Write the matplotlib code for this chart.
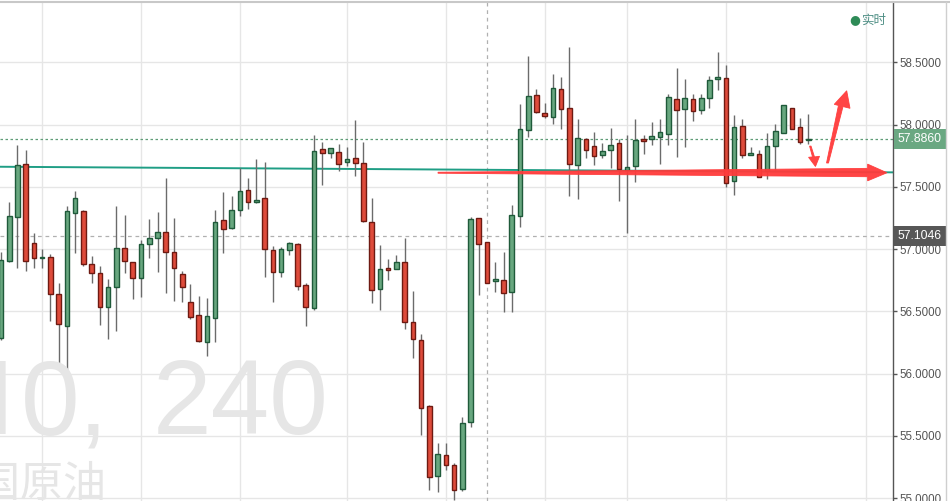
import matplotlib
matplotlib.use("Agg")
import matplotlib.pyplot as plt
import matplotlib.transforms as mtransforms
from matplotlib.patches import Polygon
from matplotlib.lines import Line2D

plt.rcParams['font.family'] = ['Liberation Sans', 'Noto Sans CJK SC', 'DejaVu Sans']

# ---------------- data (4h candles) ----------------
opens = [56.284, 56.907, 57.260, 57.683, 57.047, 56.928, 56.934, 56.637, 56.385, 57.292,
         57.306, 56.878, 56.806, 56.533, 56.693, 57.006, 56.894, 56.766, 57.039, 57.087,
         57.135, 56.979, 56.798, 56.573, 56.469, 56.257, 56.449, 57.231, 57.172, 57.316,
         57.472, 57.384, 57.408, 56.990, 56.814, 56.990, 57.039, 56.709, 56.531, 57.801,
         57.769, 57.777, 57.697, 57.729, 57.689, 57.215, 56.677, 56.846, 56.838, 56.894,
         56.413, 56.268, 55.738, 55.177, 55.345, 55.265, 55.072, 55.610, 57.247, 57.057,
         56.742, 56.750, 56.653, 57.263, 57.953, 58.234, 58.090, 58.058, 58.283, 58.130,
         57.673, 57.881, 57.825, 57.753, 57.793, 57.849, 57.632, 57.665, 57.881, 57.881,
         57.897, 57.921, 58.202, 58.122, 58.202, 58.114, 58.210, 58.371, 58.371, 57.544,
         57.986, 57.761, 57.761, 57.627, 57.830, 57.929, 58.130, 57.978, 57.872]
highs = [56.979, 57.380, 57.835, 57.795, 57.127, 57.001, 56.961, 56.726, 57.346, 57.466,
         57.314, 56.945, 56.864, 56.760, 57.346, 57.274, 56.896, 57.073, 57.239, 57.300,
         57.568, 57.247, 56.824, 56.720, 56.624, 56.605, 57.314, 57.458, 57.426, 57.648,
         57.568, 57.723, 57.697, 57.022, 57.019, 57.055, 57.047, 56.726, 57.916, 57.857,
         57.811, 57.841, 57.817, 58.036, 57.857, 57.408, 57.033, 56.918, 56.953, 57.087,
         56.664, 56.316, 55.746, 55.444, 55.444, 55.281, 55.650, 57.258, 57.253, 57.057,
         56.899, 56.977, 57.354, 58.165, 58.550, 58.283, 58.170, 58.405, 58.379, 58.622,
         58.042, 57.889, 57.937, 57.849, 57.970, 57.881, 57.916, 58.042, 57.913, 58.018,
         58.042, 58.242, 58.451, 58.363, 58.242, 58.242, 58.389, 58.579, 58.475, 58.074,
         58.042, 57.823, 57.795, 57.932, 58.004, 58.156, 58.132, 58.050, 58.082]
lows = [56.270, 56.899, 56.851, 56.827, 56.851, 56.851, 56.425, 56.072, 55.767, 56.966,
        56.867, 56.730, 56.391, 56.279, 56.345, 56.811, 56.597, 56.618, 56.926, 56.819,
        56.650, 56.586, 56.578, 56.439, 56.257, 56.144, 56.257, 56.971, 57.161, 57.268,
        57.324, 57.372, 56.778, 56.578, 56.778, 56.953, 56.674, 56.385, 56.514, 57.514,
        57.729, 57.629, 57.667, 57.589, 57.220, 56.570, 56.514, 56.754, 56.838, 56.361,
        56.124, 55.510, 55.064, 55.048, 55.225, 54.990, 55.056, 55.575, 56.632, 56.724,
        56.658, 56.498, 56.498, 57.180, 57.902, 58.096, 58.050, 58.002, 57.966, 57.424,
        57.400, 57.729, 57.673, 57.729, 57.648, 57.390, 57.127, 57.541, 57.766, 57.833,
        57.681, 57.833, 57.737, 57.817, 58.026, 58.082, 58.130, 58.274, 57.496, 57.432,
        57.729, 57.753, 57.579, 57.559, 57.635, 57.928, 57.960, 57.843, 57.841]
closes = [56.913, 57.266, 57.675, 56.907, 56.926, 56.934, 56.637, 56.396, 57.306, 57.408,
          56.878, 56.806, 56.533, 56.693, 57.006, 56.907, 56.766, 57.039, 57.087, 57.135,
          56.979, 56.846, 56.698, 56.457, 56.265, 56.461, 57.215, 57.159, 57.311, 57.464,
          57.380, 57.392, 56.998, 56.819, 57.001, 57.047, 56.701, 56.538, 57.791, 57.769,
          57.809, 57.681, 57.721, 57.689, 57.228, 56.669, 56.838, 56.830, 56.894, 56.413,
          56.276, 55.722, 55.169, 55.353, 55.265, 55.064, 55.602, 57.239, 57.043, 56.730,
          56.758, 56.645, 57.271, 57.961, 58.226, 58.098, 58.066, 58.291, 58.122, 57.681,
          57.889, 57.793, 57.745, 57.785, 57.833, 57.640, 57.656, 57.873, 57.865, 57.905,
          57.937, 58.218, 58.114, 58.210, 58.106, 58.210, 58.355, 58.379, 57.528, 57.978,
          57.753, 57.769, 57.581, 57.825, 57.948, 58.154, 57.961, 57.857, 57.886]

y_ticks = [55.0, 55.5, 56.0, 56.5, 57.0, 57.5, 58.0, 58.5]
x_grid_idx = [5, 17, 29, 42, 54, 66, 76, 88, 105]
cursor_idx = 59
last_price = 57.8860
ref_price = 57.1046
trend_x = [-0.12, 108.28]
trend_y = [57.661, 57.616]

# hand-drawn red arrows (index, price)
arrow_long = [(53.05, 57.617), (105.2, 57.648), (105.2, 57.682), (107.55, 57.613),
              (105.2, 57.548), (105.2, 57.581), (53.05, 57.609)]
arrow_down = [(98.15, 57.827), (98.33, 57.827), (98.75, 57.740), (99.36, 57.745),
              (98.87, 57.663), (98.03, 57.737), (98.51, 57.740)]
arrow_up = [(100.21, 57.691), (100.45, 57.691), (102.21, 58.144), (103.06, 58.130),
            (102.66, 58.271), (101.15, 58.162), (101.66, 58.153)]

# ---------------- figure ----------------
W, H = 950, 501
fig = plt.figure(figsize=(W / 100, H / 100), dpi=100)
fig.patch.set_facecolor('white')
ax = fig.add_axes([0, 0, 893 / W, (H - 2.3) / H])
ax.set_xlim(-0.12, 108.28)
ax.set_ylim(54.978, 58.981)

# watermark
wm = dict(fontsize=76, color='#e6e6e6', family='Liberation Sans', ha='left',
          va='baseline', zorder=0)
fig.text(-15 / W, (H - 434) / H, 'I', **wm)
fig.text(21 / W, (H - 434) / H, '0,', **wm)
fig.text(153 / W, (H - 434) / H, '240', **wm)
fig.text(-66 / W, (H - 497) / H, '美国原油', fontsize=31, color='#e6e6e6',
         family=['Noto Sans CJK SC'], ha='left', va='baseline', zorder=0)

# grid
for yt in y_ticks:
    ax.axhline(yt, color='#e6e6e6', lw=1, zorder=1)
for xi in x_grid_idx:
    ax.axvline(xi, color='#e6e6e6', lw=1, zorder=1)
ax.axvline(cursor_idx, color='#b0b0b0', lw=0.9, ls=(0, (3, 3)), zorder=1)
ax.axhline(ref_price, color='#b0b0b0', lw=0.9, ls=(0, (3, 3)), zorder=1)
ax.axhline(last_price, color='#5e9c77', lw=0.9, ls=(0, (2, 2)), zorder=1)

# trend line
ax.plot(trend_x, trend_y, color='#1f9e85', lw=1.4, zorder=2, solid_capstyle='butt')

# candles
up_fill, up_edge = '#68a77f', '#1f5a3a'
dn_fill, dn_edge = '#de4b3b', '#6e1a12'
xs = list(range(len(opens)))
ax.vlines(xs, lows, highs, color='#6b6b6b', lw=1, zorder=3)
for i in xs:
    o, c = opens[i], closes[i]
    up = c >= o
    bottom = min(o, c)
    h = abs(c - o)
    if h < 0.012:
        bottom = (o + c) / 2 - 0.006
        h = 0.012
    ax.bar(i, h, bottom=bottom, width=0.56,
           color=up_fill if up else dn_fill,
           edgecolor=up_edge if up else dn_edge, lw=1.0, zorder=4)

# red arrows
for pts in (arrow_long, arrow_down, arrow_up):
    ax.add_patch(Polygon(pts, closed=True, fc='#ff3b3b', ec='#ff3b3b', lw=0.6,
                         alpha=0.95, zorder=6))

# axes styling
for s in ('left', 'bottom'):
    ax.spines[s].set_visible(False)
ax.spines['top'].set_color('#c8c8c8')
ax.spines['top'].set_linewidth(1.5)
ax.spines['right'].set_color('#555555')
ax.spines['right'].set_linewidth(1.0)
ax.set_xticks([])
ax.yaxis.tick_right()
ax.set_yticks(y_ticks)
ax.set_yticklabels([f'{v:.4f}' for v in y_ticks])
ax.tick_params(axis='y', direction='out', length=3, width=1, color='#555555',
               labelsize=8.3, labelcolor='#555555', pad=2)

# price boxes on the axis
tr = mtransforms.blended_transform_factory(ax.transAxes, ax.transData)
ax.text(1.0 + 5 / 893, last_price, '57.8860', transform=tr, ha='left', va='center',
        fontsize=8.8, color='white', clip_on=False, zorder=10,
        bbox=dict(boxstyle='square,pad=0.32', fc='#6aa882', ec='none'))
ax.text(1.0 + 5 / 893, ref_price, '57.1046', transform=tr, ha='left', va='center',
        fontsize=8.8, color='white', clip_on=False, zorder=10,
        bbox=dict(boxstyle='square,pad=0.32', fc='#575757', ec='none'))

# legend
fig.text(855 / W, (H - 20) / H, '●', fontsize=9, color='#2e8b57', ha='center',
         va='center', family=['DejaVu Sans'])
fig.text(861 / W, (H - 20) / H, '实时', fontsize=9, color='#4f8f85', ha='left',
         va='center', family=['Noto Sans CJK SC'])

# frame lines outside axes
fig.add_artist(Line2D([893 / W, 1], [1 - 2.3 / H] * 2, color='#c8c8c8', lw=1.5))
fig.add_artist(Line2D([946 / W] * 2, [0, 1 - 2.3 / H], color='#cfcfcf', lw=1))

fig.savefig('out.png', dpi=100, facecolor='white')
